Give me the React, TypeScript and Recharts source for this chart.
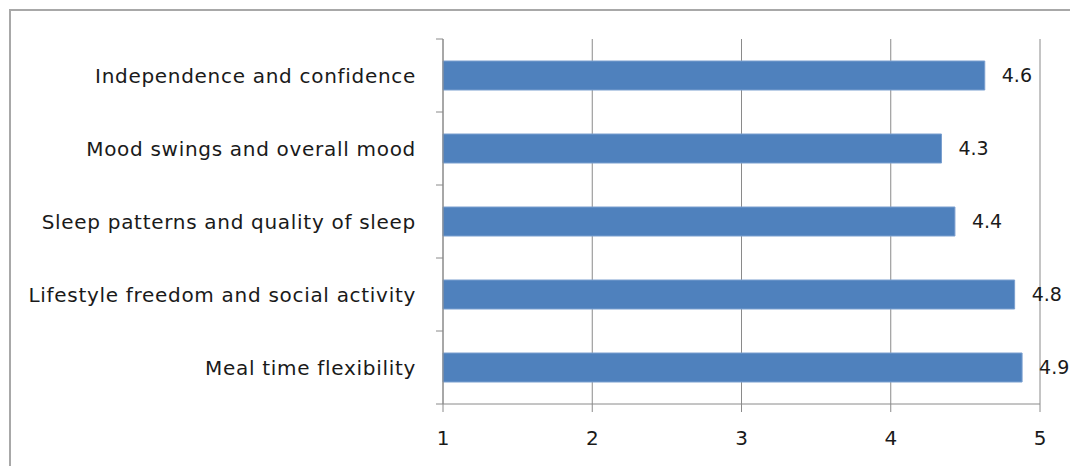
import { BarChart, Bar, XAxis, YAxis, CartesianGrid, LabelList } from 'recharts'

const categories = [
  'Independence and confidence',
  'Mood swings and overall mood',
  'Sleep patterns and quality of sleep',
  'Lifestyle freedom and social activity',
  'Meal time flexibility',
]
const scores = [4.63, 4.34, 4.43, 4.83, 4.88]
const xTicks = [1, 2, 3, 4, 5]

const data = categories.map((name, i) => ({ name, score: scores[i] }))

const FONT = '"DejaVu Sans", sans-serif'
const TEXT = '#1a1a1a'
const GRID = '#8a8a8a'
const BAND = 73

function CategoryTick(props: any) {
  const { x, y, payload, index } = props
  const last = index === categories.length - 1
  return (
    <g>
      <line x1={x + 1} x2={x + 8} y1={y - BAND / 2} y2={y - BAND / 2} stroke={GRID} />
      {last && <line x1={x + 1} x2={x + 8} y1={y + BAND / 2} y2={y + BAND / 2} stroke={GRID} />}
      <text
        x={x - 19}
        y={y}
        dy="0.35em"
        textAnchor="end"
        fill={TEXT}
        fontSize={20}
        letterSpacing={0.7}
        fontFamily={FONT}
      >
        {payload.value}
      </text>
    </g>
  )
}

function App() {
  return (
    <div style={{ position: 'absolute', left: 0, top: 0, width: 1070, height: 466, background: '#fff' }}>
      <div
        style={{
          position: 'absolute',
          left: 9,
          top: 9,
          width: 1080,
          height: 480,
          borderTop: '2px solid #a8a8a8',
          borderLeft: '2px solid #a8a8a8',
        }}
      />
      <div style={{ position: 'absolute', left: 0, top: 0 }}>
        <BarChart
          width={1070}
          height={466}
          data={data}
          layout="vertical"
          margin={{ top: 39, right: 30, bottom: 22, left: 0 }}
          barSize={29}
        >
          <CartesianGrid horizontal={false} stroke={GRID} />
          <XAxis
            type="number"
            domain={[1, 5]}
            ticks={xTicks}
            interval={0}
            height={40}
            stroke={GRID}
            tickSize={8}
            tickMargin={19}
            tick={{ fill: TEXT, fontSize: 20, fontFamily: FONT }}
          />
          <YAxis
            type="category"
            dataKey="name"
            width={443}
            stroke={GRID}
            tickLine={false}
            tick={<CategoryTick />}
            interval={0}
          />
          <Bar dataKey="score" fill="#4f81bd" stroke="#7b9fcf" strokeWidth={1} isAnimationActive={false}>
            <LabelList
              dataKey="score"
              position="right"
              offset={17}
              formatter={(v: any) => Number(v).toFixed(1)}
              fill={TEXT}
              fontSize={19}
              fontFamily={FONT}
            />
          </Bar>
        </BarChart>
      </div>
    </div>
  )
}

export default App
